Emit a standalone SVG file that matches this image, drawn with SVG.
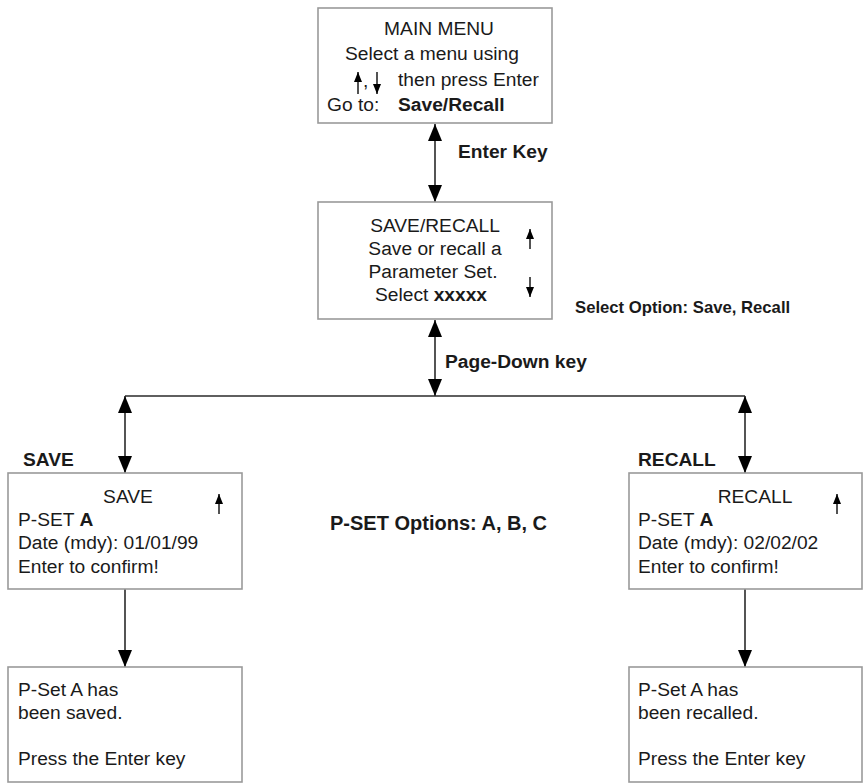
<svg xmlns="http://www.w3.org/2000/svg" width="863" height="784" viewBox="0 0 863 784">
  <defs>
    <style>
      .box { fill: #ffffff; stroke: #9a9a9a; stroke-width: 1.6; }
      .t { font-family: "Liberation Sans", Arial, sans-serif; font-size: 19.2px; fill: #1a1a1a; }
      .c { text-anchor: middle; }
      .b { font-weight: bold; }
      .lbl { font-family: "Liberation Sans", Arial, sans-serif; font-size: 19.2px; font-weight: bold; fill: #1a1a1a; }
      .lbl-s { font-size: 16.7px; }
      .lbl-l { font-size: 20px; }
      .wire { fill: none; stroke: #2a2a2a; stroke-width: 1.6; }
      .tick { fill: none; stroke: #1a1a1a; stroke-width: 1.5; }
    </style>
    <marker id="head" markerUnits="userSpaceOnUse" markerWidth="17" markerHeight="14" refX="17" refY="7" orient="auto-start-reverse">
      <path d="M0,0 L17,7 L0,14 z" fill="#000"/>
    </marker>
    <marker id="tip" markerUnits="userSpaceOnUse" markerWidth="10" markerHeight="8" refX="10" refY="4" orient="auto-start-reverse">
      <path d="M0,0 L10,4 L0,8 z" fill="#000"/>
    </marker>
  </defs>

  <rect width="863" height="784" fill="#ffffff"/>

  <!-- connectors -->
  <g id="connectors">
    <line class="wire" x1="435" y1="124" x2="435" y2="202" marker-start="url(#head)" marker-end="url(#head)"/>
    <line class="wire" x1="435" y1="320" x2="435" y2="396" marker-start="url(#head)" marker-end="url(#head)"/>
    <line class="wire" x1="125" y1="396" x2="745" y2="396"/>
    <line class="wire" x1="125" y1="396" x2="125" y2="473" marker-start="url(#head)" marker-end="url(#head)"/>
    <line class="wire" x1="745" y1="396" x2="745" y2="473" marker-start="url(#head)" marker-end="url(#head)"/>
    <line class="wire" x1="125" y1="589" x2="125" y2="667" marker-end="url(#head)"/>
    <line class="wire" x1="745" y1="589" x2="745" y2="667" marker-end="url(#head)"/>
  </g>

  <!-- free labels -->
  <g id="labels">
    <text class="lbl" x="458" y="158">Enter Key</text>
    <text class="lbl" x="445" y="368">Page-Down key</text>
    <text class="lbl lbl-s" x="575" y="313">Select Option: Save, Recall</text>
    <text class="lbl lbl-l" x="330" y="530">P-SET Options: A, B, C</text>
    <text class="lbl" x="23" y="466">SAVE</text>
    <text class="lbl" x="638" y="466">RECALL</text>
  </g>

  <!-- main menu -->
  <g id="main-menu">
    <rect class="box" x="318" y="8" width="234" height="115"/>
    <text class="t c" x="439" y="35">MAIN MENU</text>
    <text class="t c" x="432" y="60">Select a menu using</text>
    <line class="tick" x1="358" y1="94" x2="358" y2="72" marker-end="url(#tip)"/>
    <text class="t" x="363" y="87">,</text>
    <line class="tick" x1="377" y1="72" x2="377" y2="94" marker-end="url(#tip)"/>
    <text class="t" x="398" y="86">then press Enter</text>
    <text class="t" x="327" y="111">Go to:</text>
    <text class="t b" x="398" y="111">Save/Recall</text>
  </g>

  <!-- save / recall menu -->
  <g id="save-recall">
    <rect class="box" x="318" y="202" width="234" height="117"/>
    <text class="t c" x="435" y="232">SAVE/RECALL</text>
    <text class="t c" x="435" y="255">Save or recall a</text>
    <text class="t c" x="433" y="278">Parameter Set.</text>
    <text class="t c" x="431" y="301"><tspan>Select </tspan><tspan class="b">xxxxx</tspan></text>
    <line class="tick" x1="530" y1="249" x2="530" y2="229" marker-end="url(#tip)"/>
    <line class="tick" x1="530" y1="277" x2="530" y2="297" marker-end="url(#tip)"/>
  </g>

  <!-- save screen -->
  <g id="save">
    <rect class="box" x="8" y="473" width="234" height="116"/>
    <text class="t c" x="128" y="503">SAVE</text>
    <line class="tick" x1="219" y1="514" x2="219" y2="494" marker-end="url(#tip)"/>
    <text class="t" x="18" y="526">P-SET <tspan class="b">A</tspan></text>
    <text class="t" x="18" y="549">Date (mdy): 01/01/99</text>
    <text class="t" x="18" y="573">Enter to confirm!</text>
  </g>

  <!-- save confirmation -->
  <g id="saved">
    <rect class="box" x="8" y="667" width="234" height="115"/>
    <text class="t" x="18" y="696">P-Set A has</text>
    <text class="t" x="18" y="719">been saved.</text>
    <text class="t" x="18" y="765">Press the Enter key</text>
  </g>

  <!-- recall screen -->
  <g id="recall">
    <rect class="box" x="629" y="473" width="233" height="116"/>
    <text class="t c" x="755" y="503">RECALL</text>
    <line class="tick" x1="837" y1="514" x2="837" y2="494" marker-end="url(#tip)"/>
    <text class="t" x="638" y="526">P-SET <tspan class="b">A</tspan></text>
    <text class="t" x="638" y="549">Date (mdy): 02/02/02</text>
    <text class="t" x="638" y="573">Enter to confirm!</text>
  </g>

  <!-- recall confirmation -->
  <g id="recalled">
    <rect class="box" x="629" y="667" width="233" height="115"/>
    <text class="t" x="638" y="696">P-Set A has</text>
    <text class="t" x="638" y="719">been recalled.</text>
    <text class="t" x="638" y="765">Press the Enter key</text>
  </g>
</svg>
